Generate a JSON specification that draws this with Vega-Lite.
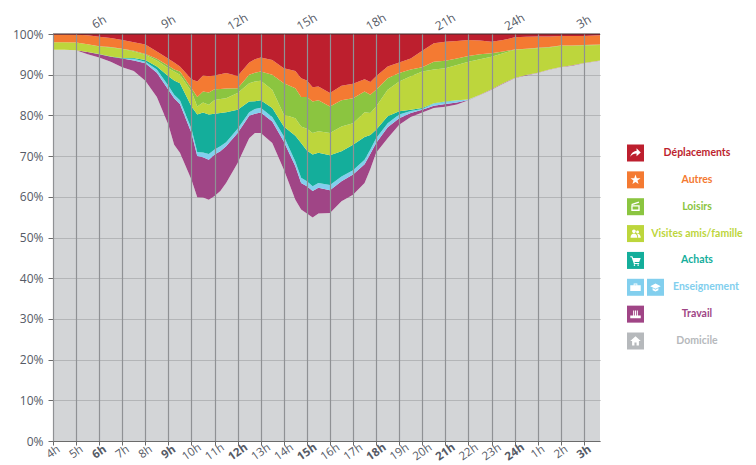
{"$schema":"https://vega.github.io/schema/vega-lite/v6.json","autosize":{"type":"pad"},"padding":{"left":12,"top":11,"right":0,"bottom":0},"background":"white","bounds":"flush","spacing":20,"config":{"view":{"stroke":null},"font":"Open Sans"},"hconcat":[{"width":547,"height":407,"layer":[{"data":{"name":"parts"},"transform":[{"fold":["Domicile","Travail","Enseignement","Achats","Visites amis/famille","Loisirs","Autres","Déplacements"],"as":["activite","part"]},{"calculate":"indexof(['Domicile','Travail','Enseignement','Achats','Visites amis/famille','Loisirs','Autres','Déplacements'],datum.activite)","as":"rang"}],"mark":{"type":"area","interpolate":"linear","clip":true},"encoding":{"x":{"field":"h","type":"quantitative","title":null,"scale":{"domain":[4,27.7],"nice":false,"zero":false},"axis":{"tickCount":24,"values":[4,5,6,7,8,9,10,11,12,13,14,15,16,17,18,19,20,21,22,23,24,25,26,27],"labelExpr":"(datum.value<=24?datum.value:datum.value-24)+'h'","labelAngle":-35,"labelAlign":"center","labelBaseline":"middle","labelPadding":7,"labelFontSize":11.5,"labelColor":"#555a66","labelFontWeight":{"condition":{"test":"datum.value%3==0","value":"bold"},"value":"normal"},"labelOverlap":false,"labelBound":false,"labelFlush":false,"grid":true,"gridColor":"#8f9194","gridWidth":1.2,"tickColor":"#6b6b6b","tickSize":4,"domainColor":"#6b6b6b","zindex":1}},"y":{"field":"part","type":"quantitative","stack":true,"title":null,"scale":{"domain":[0,100],"nice":false},"axis":{"tickCount":11,"values":[0,10,20,30,40,50,60,70,80,90,100],"labelExpr":"datum.value+'%'","labelFontSize":12,"labelColor":"#555a66","labelPadding":5,"grid":true,"gridColor":"#b0b0b0","gridWidth":1.2,"domain":false,"tickColor":"#6b6b6b","tickSize":5,"zindex":0}},"order":{"field":"rang","type":"quantitative"},"color":{"field":"activite","type":"nominal","legend":null,"scale":{"domain":["Déplacements","Autres","Loisirs","Visites amis/famille","Achats","Enseignement","Travail","Domicile"],"range":["#bd1f2e","#f47a32","#8bc540","#bdd63c","#14ae9b","#82cfee","#a04586","#b6b9bc"]}},"fillOpacity":{"condition":{"test":"datum.activite==='Domicile'","value":0.6},"value":1}}},{"data":{"values":[{"y":100}]},"mark":{"type":"rule","color":"#3a2a2a","strokeWidth":1.2},"encoding":{"y":{"field":"y","type":"quantitative"}}},{"data":{"values":[{"h":6,"t":"6h"},{"h":9,"t":"9h"},{"h":12,"t":"12h"},{"h":15,"t":"15h"},{"h":18,"t":"18h"},{"h":21,"t":"21h"},{"h":24,"t":"24h"},{"h":27,"t":"3h"}]},"mark":{"type":"text","angle":-30,"dx":6,"dy":-10.4,"fontSize":12,"color":"#555a66","font":"Open Sans"},"encoding":{"x":{"field":"h","type":"quantitative"},"y":{"datum":100},"text":{"field":"t"}}}]},{"width":136,"height":407,"data":{"values":[{"activite":"Déplacements","slot":"a","icone":"fleche"},{"activite":"Autres","slot":"a","icone":"etoile"},{"activite":"Loisirs","slot":"a","icone":"cadre"},{"activite":"Visites amis/famille","slot":"a","icone":"amis"},{"activite":"Achats","slot":"a","icone":"chariot"},{"activite":"Enseignement","slot":"a","icone":"valise"},{"activite":"Enseignement","slot":"b","icone":"toque"},{"activite":"Travail","slot":"a","icone":"usine"},{"activite":"Domicile","slot":"a","icone":"maison"}]},"encoding":{"y":{"field":"activite","type":"nominal","axis":null,"sort":null,"scale":{"type":"point","padding":0,"domain":["Déplacements","Autres","Loisirs","Visites amis/famille","Achats","Enseignement","Travail","Domicile"],"range":[119,307]}},"color":{"field":"activite","type":"nominal","legend":null,"scale":{"domain":["Déplacements","Autres","Loisirs","Visites amis/famille","Achats","Enseignement","Travail","Domicile"],"range":["#bd1f2e","#f47a32","#8bc540","#bdd63c","#14ae9b","#82cfee","#a04586","#d3d5d7"]}}},"layer":[{"mark":{"type":"point","shape":"square","filled":true,"size":289,"opacity":1},"encoding":{"x":{"field":"slot","type":"nominal","axis":null,"scale":{"type":"point","padding":0,"domain":["a","b"],"range":[15.5,35.5]}}}},{"mark":{"type":"point","filled":true,"size":110,"opacity":1},"encoding":{"x":{"field":"slot","type":"nominal","axis":null,"scale":{"type":"point","padding":0,"domain":["a","b"],"range":[15.5,35.5]}},"color":{"value":"white"},"shape":{"field":"icone","type":"nominal","legend":null,"scale":{"domain":["fleche","etoile","cadre","amis","chariot","valise","toque","usine","maison"],"range":["M-1 0.7C-0.8 -0.1 -0.2 -0.4 0.2 -0.4V-0.9L1 -0.1L0.2 0.6V0.1C-0.3 0.1 -0.7 0.3 -1 0.7Z","M0 -1L0.24 -0.31L0.95 -0.31L0.38 0.12L0.59 0.81L0 0.4L-0.59 0.81L-0.38 0.12L-0.95 -0.31L-0.24 -0.31Z","M-0.8 -0.3H0.8V0.8H-0.8ZM-0.55 -0.05V0.55H0.55V-0.05ZM-0.8 -0.5L0.6 -1L0.7 -0.75L-0.7 -0.3Z","M-0.3 -0.8A0.35 0.35 0 1 1 -0.3 -0.1A0.35 0.35 0 1 1 -0.3 -0.8ZM-0.95 0.8C-0.95 0.2 -0.6 0 -0.3 0C0 0 0.35 0.2 0.35 0.8ZM0.4 -0.6A0.28 0.28 0 1 1 0.4 -0.04A0.28 0.28 0 1 1 0.4 -0.6ZM0.5 0.8C0.5 0.4 0.4 0.2 0.3 0.05C0.7 -0.05 1 0.3 1 0.8Z","M-1 -0.8H-0.6L-0.45 -0.45H1L0.7 0.3H-0.2L-0.1 0.5H0.7V0.7H-0.3L-0.75 -0.6H-1ZM-0.2 0.75A0.15 0.15 0 1 1 -0.2 1.05A0.15 0.15 0 1 1 -0.2 0.75ZM0.5 0.75A0.15 0.15 0 1 1 0.5 1.05A0.15 0.15 0 1 1 0.5 0.75Z","M-1 -0.4H-0.35V-0.7H0.35V-0.4H1V0.7H-1ZM-0.2 -0.55V-0.4H0.2V-0.55Z","M0 -0.7L1 -0.2L0 0.3L-1 -0.2ZM-0.55 0.15L0 0.45L0.55 0.15V0.55L0 0.8L-0.55 0.55Z","M-1 0.8V0.25H-0.45V-0.7H-0.25V0.25H-0.1V-0.7H0.1V0.25H0.25V-0.7H0.45V0.25H1V0.8Z","M0 -0.9L1 0H0.65V0.85H0.2V0.3H-0.2V0.85H-0.65V0H-1Z"]}}}},{"transform":[{"filter":"datum.slot==='a' && datum.activite!=='Enseignement'"}],"mark":{"type":"text","font":"Lato","fontWeight":"bold","fontSize":10.5,"align":"center","baseline":"middle"},"encoding":{"x":{"value":77},"text":{"field":"activite"}}},{"transform":[{"filter":"datum.slot==='a' && datum.activite==='Enseignement'"}],"mark":{"type":"text","font":"Lato","fontWeight":"bold","fontSize":10.5,"align":"center","baseline":"middle"},"encoding":{"x":{"value":86},"text":{"field":"activite"}}}]}],"datasets":{"parts":[
{"h":4,"Domicile":96.1,"Travail":0,"Enseignement":0,"Achats":0,"Visites amis/famille":1.9,"Loisirs":0,"Autres":1.9,"Déplacements":0.1},
{"h":4.5,"Domicile":96.1,"Travail":0,"Enseignement":0,"Achats":0,"Visites amis/famille":1.9,"Loisirs":0,"Autres":1.9,"Déplacements":0.1},
{"h":5,"Domicile":96,"Travail":0,"Enseignement":0,"Achats":0,"Visites amis/famille":1.9,"Loisirs":0,"Autres":1.9,"Déplacements":0.2},
{"h":5.5,"Domicile":95,"Travail":0.6,"Enseignement":0,"Achats":0,"Visites amis/famille":1.9,"Loisirs":0,"Autres":2.2,"Déplacements":0.3},
{"h":6,"Domicile":94.2,"Travail":0.8,"Enseignement":0,"Achats":0.1,"Visites amis/famille":1.8,"Loisirs":0.1,"Autres":2.3,"Déplacements":0.7},
{"h":6.5,"Domicile":93.2,"Travail":1.2,"Enseignement":0,"Achats":0.1,"Visites amis/famille":2.2,"Loisirs":0.1,"Autres":2.2,"Déplacements":1},
{"h":7,"Domicile":91.8,"Travail":2.2,"Enseignement":0,"Achats":0.1,"Visites amis/famille":2.2,"Loisirs":0.1,"Autres":2.1,"Déplacements":1.5},
{"h":7.5,"Domicile":90.9,"Travail":2.6,"Enseignement":0.4,"Achats":0.2,"Visites amis/famille":1.6,"Loisirs":0.2,"Autres":2.1,"Déplacements":2},
{"h":8,"Domicile":88.5,"Travail":4.3,"Enseignement":0.4,"Achats":0.4,"Visites amis/famille":1.3,"Loisirs":0.2,"Autres":2.3,"Déplacements":2.6},
{"h":8.5,"Domicile":84.5,"Travail":6,"Enseignement":0.8,"Achats":0.7,"Visites amis/famille":1.5,"Loisirs":0.4,"Autres":1.8,"Déplacements":4.3},
{"h":9,"Domicile":77.7,"Travail":8.6,"Enseignement":1,"Achats":2.3,"Visites amis/famille":2,"Loisirs":0.6,"Autres":1.7,"Déplacements":6.1},
{"h":9.25,"Domicile":72.8,"Travail":11.4,"Enseignement":0.9,"Achats":3.5,"Visites amis/famille":2.2,"Loisirs":0.5,"Autres":1.7,"Déplacements":7},
{"h":9.5,"Domicile":70.8,"Travail":12,"Enseignement":0.9,"Achats":4.2,"Visites amis/famille":2.1,"Loisirs":0.8,"Autres":1.2,"Déplacements":8},
{"h":10,"Domicile":64.2,"Travail":11.5,"Enseignement":1,"Achats":5.5,"Visites amis/famille":3.7,"Loisirs":0.8,"Autres":2.2,"Déplacements":11.1},
{"h":10.25,"Domicile":59.9,"Travail":10.1,"Enseignement":1,"Achats":9.2,"Visites amis/famille":2,"Loisirs":2.3,"Autres":3.8,"Déplacements":11.7},
{"h":10.5,"Domicile":59.8,"Travail":9.9,"Enseignement":1.2,"Achats":9.8,"Visites amis/famille":2.5,"Loisirs":2.7,"Autres":3.9,"Déplacements":10.2},
{"h":10.75,"Domicile":59.3,"Travail":9.8,"Enseignement":1.4,"Achats":9.7,"Visites amis/famille":2.4,"Loisirs":3,"Autres":4,"Déplacements":10.4},
{"h":11,"Domicile":60.2,"Travail":10.2,"Enseignement":1.2,"Achats":8.8,"Visites amis/famille":3.4,"Loisirs":2.6,"Autres":3.4,"Déplacements":10.2},
{"h":11.25,"Domicile":61.4,"Travail":9.8,"Enseignement":1.2,"Achats":8.2,"Visites amis/famille":3.4,"Loisirs":2.5,"Autres":3.6,"Déplacements":9.9},
{"h":11.5,"Domicile":63.4,"Travail":9,"Enseignement":1,"Achats":7.4,"Visites amis/famille":3.4,"Loisirs":2.4,"Autres":3.8,"Déplacements":9.6},
{"h":12,"Domicile":68.3,"Travail":7.4,"Enseignement":1,"Achats":4.7,"Visites amis/famille":4.1,"Loisirs":1.2,"Autres":3,"Déplacements":10.3},
{"h":12.5,"Domicile":74.4,"Travail":5.5,"Enseignement":0.9,"Achats":2.6,"Visites amis/famille":4.5,"Loisirs":2.1,"Autres":3,"Déplacements":7},
{"h":12.75,"Domicile":75.7,"Travail":4.7,"Enseignement":1.2,"Achats":1.9,"Visites amis/famille":4.8,"Loisirs":2.2,"Autres":3.3,"Déplacements":6.2},
{"h":13,"Domicile":75.7,"Travail":5,"Enseignement":1.2,"Achats":1.8,"Visites amis/famille":4.8,"Loisirs":2.3,"Autres":3.4,"Déplacements":5.8},
{"h":13.5,"Domicile":73.2,"Travail":5.3,"Enseignement":1.1,"Achats":2.2,"Visites amis/famille":4.5,"Loisirs":3.7,"Autres":3.6,"Déplacements":6.4},
{"h":14,"Domicile":66.7,"Travail":6.9,"Enseignement":1.3,"Achats":2.4,"Visites amis/famille":2.9,"Loisirs":7.7,"Autres":3.7,"Déplacements":8.4},
{"h":14.5,"Domicile":59.3,"Travail":8.2,"Enseignement":1.2,"Achats":6.3,"Visites amis/famille":4.3,"Loisirs":7.4,"Autres":4.2,"Déplacements":9.1},
{"h":14.75,"Domicile":56.9,"Travail":6.5,"Enseignement":1.3,"Achats":8.5,"Visites amis/famille":4.1,"Loisirs":7.2,"Autres":4.6,"Déplacements":10.9},
{"h":15,"Domicile":55.9,"Travail":6.7,"Enseignement":1.2,"Achats":7.6,"Visites amis/famille":5.3,"Loisirs":7.8,"Autres":4.1,"Déplacements":11.4},
{"h":15.25,"Domicile":54.9,"Travail":6.5,"Enseignement":1.2,"Achats":7.8,"Visites amis/famille":5.3,"Loisirs":7.7,"Autres":3.5,"Déplacements":13.1},
{"h":15.5,"Domicile":55.9,"Travail":6.3,"Enseignement":1.2,"Achats":7.4,"Visites amis/famille":5.3,"Loisirs":7.6,"Autres":3.4,"Déplacements":12.9},
{"h":16,"Domicile":56,"Travail":5.6,"Enseignement":1.3,"Achats":7.3,"Visites amis/famille":5.5,"Loisirs":6.5,"Autres":3.3,"Déplacements":14.5},
{"h":16.5,"Domicile":58.9,"Travail":4.9,"Enseignement":1.2,"Achats":6.2,"Visites amis/famille":6.1,"Loisirs":6.4,"Autres":3.6,"Déplacements":12.7},
{"h":17,"Domicile":60.5,"Travail":5,"Enseignement":1,"Achats":6.3,"Visites amis/famille":5.3,"Loisirs":6.1,"Autres":3.6,"Déplacements":12.2},
{"h":17.5,"Domicile":63.4,"Travail":4.6,"Enseignement":1.1,"Achats":5.6,"Visites amis/famille":6.1,"Loisirs":5.1,"Autres":3,"Déplacements":11.1},
{"h":17.75,"Domicile":66.8,"Travail":3.8,"Enseignement":1,"Achats":3.6,"Visites amis/famille":5.4,"Loisirs":4.5,"Autres":3.1,"Déplacements":11.8},
{"h":18,"Domicile":70.8,"Travail":2.4,"Enseignement":1.2,"Achats":2.1,"Visites amis/famille":5.7,"Loisirs":4.1,"Autres":3.3,"Déplacements":10.4},
{"h":18.5,"Domicile":74.4,"Travail":2.7,"Enseignement":1,"Achats":1.7,"Visites amis/famille":6.5,"Loisirs":2.8,"Autres":2.9,"Déplacements":8},
{"h":19,"Domicile":77.7,"Travail":1.6,"Enseignement":0.9,"Achats":0.8,"Visites amis/famille":7.3,"Loisirs":2.1,"Autres":2.6,"Déplacements":7},
{"h":19.5,"Domicile":79.6,"Travail":1,"Enseignement":0.5,"Achats":0.3,"Visites amis/famille":8.2,"Loisirs":1.7,"Autres":2.7,"Déplacements":6},
{"h":20,"Domicile":80.7,"Travail":0.7,"Enseignement":0.2,"Achats":0.2,"Visites amis/famille":9,"Loisirs":1,"Autres":4.1,"Déplacements":4.1},
{"h":20.5,"Domicile":81.8,"Travail":0.6,"Enseignement":0.5,"Achats":0.1,"Visites amis/famille":8.3,"Loisirs":1.9,"Autres":4.5,"Déplacements":2.3},
{"h":21,"Domicile":82.1,"Travail":0.7,"Enseignement":0.5,"Achats":0.1,"Visites amis/famille":8.2,"Loisirs":1.8,"Autres":4.7,"Déplacements":1.9},
{"h":21.5,"Domicile":82.7,"Travail":0.5,"Enseignement":0.5,"Achats":0,"Visites amis/famille":8.7,"Loisirs":1.6,"Autres":4.3,"Déplacements":1.7},
{"h":22,"Domicile":83.7,"Travail":0.1,"Enseignement":0.1,"Achats":0,"Visites amis/famille":9.3,"Loisirs":1.4,"Autres":3.9,"Déplacements":1.5},
{"h":22.5,"Domicile":85,"Travail":0.1,"Enseignement":0,"Achats":0,"Visites amis/famille":8.7,"Loisirs":1.2,"Autres":3.4,"Déplacements":1.6},
{"h":23,"Domicile":86.3,"Travail":0.1,"Enseignement":0,"Achats":0,"Visites amis/famille":8,"Loisirs":0.9,"Autres":2.8,"Déplacements":1.9},
{"h":23.5,"Domicile":87.8,"Travail":0.1,"Enseignement":0,"Achats":0,"Visites amis/famille":7.4,"Loisirs":0.4,"Autres":2.8,"Déplacements":1.5},
{"h":24,"Domicile":89.1,"Travail":0.1,"Enseignement":0,"Achats":0,"Visites amis/famille":6.9,"Loisirs":0.1,"Autres":3,"Déplacements":0.8},
{"h":24.5,"Domicile":89.8,"Travail":0.1,"Enseignement":0,"Achats":0,"Visites amis/famille":6.4,"Loisirs":0.1,"Autres":2.9,"Déplacements":0.7},
{"h":25,"Domicile":90.4,"Travail":0.1,"Enseignement":0,"Achats":0,"Visites amis/famille":6,"Loisirs":0.1,"Autres":2.8,"Déplacements":0.6},
{"h":25.5,"Domicile":91.2,"Travail":0.1,"Enseignement":0,"Achats":0,"Visites amis/famille":5.4,"Loisirs":0.1,"Autres":2.6,"Déplacements":0.6},
{"h":26,"Domicile":91.8,"Travail":0.1,"Enseignement":0,"Achats":0,"Visites amis/famille":5.2,"Loisirs":0.1,"Autres":2.3,"Déplacements":0.5},
{"h":26.5,"Domicile":92.2,"Travail":0.1,"Enseignement":0,"Achats":0,"Visites amis/famille":4.8,"Loisirs":0.1,"Autres":2.3,"Déplacements":0.5},
{"h":27,"Domicile":92.8,"Travail":0.1,"Enseignement":0,"Achats":0,"Visites amis/famille":4.3,"Loisirs":0.1,"Autres":2.2,"Déplacements":0.5},
{"h":27.7,"Domicile":93.4,"Travail":0.1,"Enseignement":0,"Achats":0,"Visites amis/famille":3.8,"Loisirs":0.1,"Autres":2.3,"Déplacements":0.3}
]}}
